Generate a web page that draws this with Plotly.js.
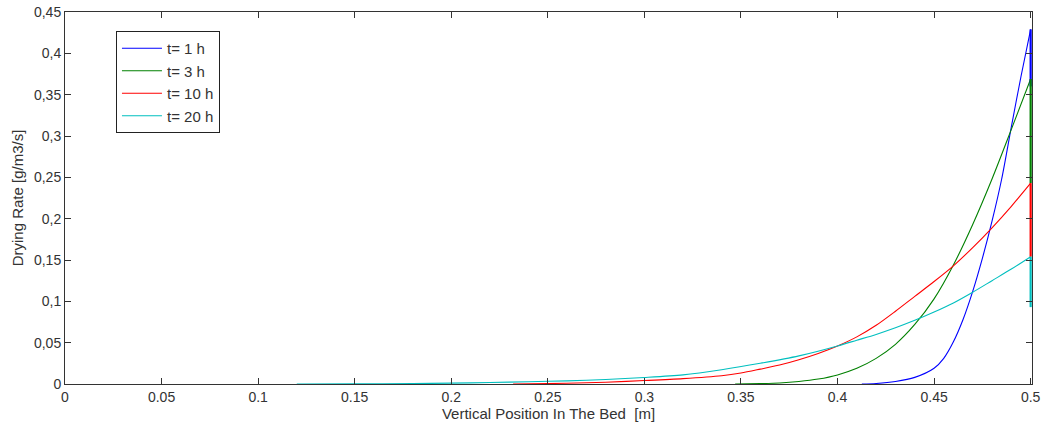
<!DOCTYPE html>
<html>
<head>
<meta charset="utf-8">
<script src="https://cdn.plot.ly/plotly-3.0.1.min.js"></script>
<style>html,body{margin:0;padding:0;background:#fff;}#chart{width:1045px;height:432px;}</style>
</head>
<body>
<div id="chart"></div>
<script>
// Data
var seriesNames = ["t= 1 h", "t= 3 h", "t= 10 h", "t= 20 h"];
var seriesColors = ["#0000FF", "#008000", "#FF0000", "#00BFBF"];

// Each series ends with a vertical drop at x = 0.5 (last two points)
var x1h = [0.4126, 0.42, 0.43, 0.44, 0.45, 0.455, 0.46, 0.465, 0.47, 0.475, 0.48, 0.485, 0.49, 0.495, 0.5, 0.5];
var y1h = [0, 0.0006, 0.003, 0.008, 0.019, 0.031, 0.051, 0.078, 0.112, 0.152, 0.197, 0.248, 0.311, 0.372, 0.429, 0.36];

var x3h = [0.347, 0.36, 0.37, 0.38, 0.39, 0.40, 0.41, 0.42, 0.43, 0.44, 0.45, 0.46, 0.47, 0.48, 0.49, 0.5, 0.5];
var y3h = [0, 0.0005, 0.0012, 0.003, 0.006, 0.011, 0.019, 0.031, 0.048, 0.072, 0.103, 0.144, 0.193, 0.248, 0.308, 0.369, 0.243];

var x10h = [0.232, 0.25, 0.27, 0.28, 0.30, 0.32, 0.34, 0.35, 0.36, 0.37, 0.38, 0.39, 0.40, 0.41, 0.42, 0.43, 0.44, 0.45, 0.46, 0.47, 0.48, 0.49, 0.5, 0.5];
var y10h = [0, 0.0005, 0.0015, 0.0022, 0.0042, 0.0065, 0.010, 0.0133, 0.018, 0.023, 0.0294, 0.037, 0.046, 0.057, 0.071, 0.088, 0.106, 0.124, 0.143, 0.165, 0.189, 0.215, 0.243, 0.154];

var x20h = [0.12, 0.15, 0.18, 0.20, 0.22, 0.24, 0.26, 0.28, 0.30, 0.32, 0.34, 0.36, 0.38, 0.40, 0.41, 0.42, 0.43, 0.44, 0.45, 0.46, 0.47, 0.48, 0.49, 0.5, 0.5];
var y20h = [0, 0.0002, 0.0005, 0.001, 0.0018, 0.0028, 0.0038, 0.0055, 0.0078, 0.011, 0.0172, 0.025, 0.034, 0.046, 0.053, 0.060, 0.068, 0.077, 0.087, 0.098, 0.111, 0.125, 0.139, 0.154, 0.093];

var yTickVals = [0, 0.05, 0.1, 0.15, 0.2, 0.25, 0.3, 0.35, 0.4, 0.45];
var yTickText = ["0", "0,05", "0,1", "0,15", "0,2", "0,25", "0,3", "0,35", "0,4", "0,45"];
var xTickVals = [0, 0.05, 0.1, 0.15, 0.2, 0.25, 0.3, 0.35, 0.4, 0.45, 0.5];
var xTickText = ["0", "0.05", "0.1", "0.15", "0.2", "0.25", "0.3", "0.35", "0.4", "0.45", "0.5"];

var xs = [x1h, x3h, x10h, x20h];
var ys = [y1h, y3h, y10h, y20h];

var traces = [];
for (var i = 0; i < xs.length; i++) {
  var n = xs[i].length;
  traces.push({
    x: xs[i].slice(0, n - 1), y: ys[i].slice(0, n - 1), type: "scatter", mode: "lines",
    name: seriesNames[i], legendgroup: "g" + i,
    line: {color: seriesColors[i], width: 1.1, shape: "spline", smoothing: 0.8}
  });
}
for (var j = 0; j < xs.length; j++) {
  var m = xs[j].length;
  traces.push({
    x: xs[j].slice(m - 2), y: ys[j].slice(m - 2), type: "scatter", mode: "lines",
    name: seriesNames[j], legendgroup: "g" + j, showlegend: false,
    line: {color: seriesColors[j], width: 2.2}
  });
}

var fam = "Liberation Sans, Arial, sans-serif";
var tickFont = {family: fam, size: 14, color: "#333"};
var titleFont = {family: fam, size: 15, color: "#333"};

var layout = {
  width: 1045, height: 432,
  margin: {l: 65, r: 13, t: 12, b: 48},
  paper_bgcolor: "#fff", plot_bgcolor: "#fff",
  showlegend: true,
  legend: {
    x: 0.0527, y: 0.949, xanchor: "left", yanchor: "top",
    bgcolor: "#fff", bordercolor: "#222", borderwidth: 1,
    font: {family: fam, size: 15, color: "#333"},
    tracegroupgap: 0, itemwidth: 40, traceorder: "normal"
  },
  xaxis: {
    range: [0, 0.5007], tickmode: "array", tickvals: xTickVals, ticktext: xTickText,
    ticks: "inside", ticklen: 6, tickcolor: "#333", mirror: "ticks",
    showline: true, linecolor: "#333", linewidth: 1,
    showgrid: false, zeroline: false, tickfont: tickFont,
    title: {text: "Vertical Position In The Bed  [m]", font: titleFont, standoff: 2}
  },
  yaxis: {
    range: [0, 0.45], tickmode: "array", tickvals: yTickVals, ticktext: yTickText,
    ticks: "inside", ticklen: 6, tickcolor: "#333", mirror: "ticks",
    showline: true, linecolor: "#333", linewidth: 1,
    showgrid: false, zeroline: false, tickfont: tickFont,
    title: {text: "Drying Rate [g/m3/s]", font: titleFont, standoff: 6}
  }
};

Plotly.newPlot("chart", traces, layout, {staticPlot: true, displayModeBar: false});
</script>
</body>
</html>
